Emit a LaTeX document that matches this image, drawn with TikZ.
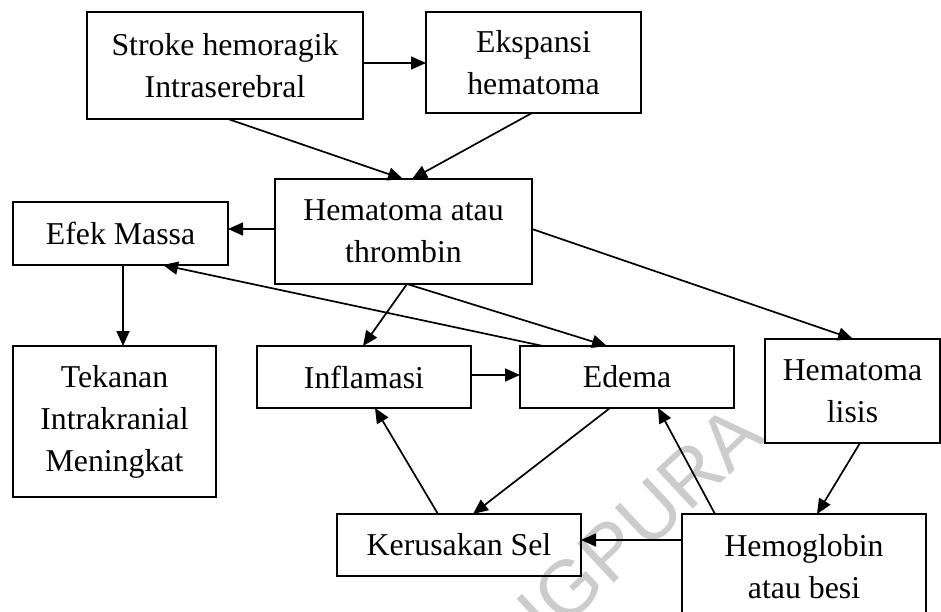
\documentclass[tikz,border=0pt]{standalone}
\usepackage{fontspec}
\setmainfont{Liberation Serif}
\newfontfamily\wmfont{Liberation Sans}
\usetikzlibrary{arrows.meta}
\begin{document}
\begin{tikzpicture}[x=1pt,y=-1pt,
  box/.style={draw, line width=1.6pt, inner sep=0pt, outer sep=0pt, align=center,
    font=\fontsize{31.8}{42}\selectfont},
  conn/.style={line width=1.7pt, -{Triangle[length=15pt,width=13pt]}},
  wm/.style={text=black!20, font=\wmfont\fontsize{78}{80}\selectfont}]
\clip (0,0) rectangle (941,612);
\fill[white] (0,0) rectangle (941,612);
\node[wm, rotate=43] (wmark) at (640,522) {IGPURA};
\node[box, minimum width=276pt, minimum height=107pt] (b1) at (225,65.5) {Stroke hemoragik\\Intraserebral};
\node[box, minimum width=215pt, minimum height=101pt] (b2) at (533.5,62.5) {Ekspansi\\hematoma};
\node[box, minimum width=257pt, minimum height=105pt] (b3) at (403.5,231.5) {Hematoma atau\\thrombin};
\node[box, minimum width=215pt, minimum height=63pt] (b4) at (120.5,233.5) {Efek Massa};
\node[box, minimum width=203pt, minimum height=151pt] (b5) at (114.5,421.5) {Tekanan\\Intrakranial\\Meningkat};
\node[box, minimum width=214pt, minimum height=62pt] (b6) at (364,377) {Inflamasi};
\node[box, minimum width=214pt, minimum height=62pt] (b7) at (627,377) {Edema};
\node[box, minimum width=175pt, minimum height=104pt] (b8) at (852.5,391) {Hematoma\\lisis};
\node[box, minimum width=244pt, minimum height=62pt] (b9) at (459,545) {Kerusakan Sel};
\node[box, minimum width=244pt, minimum height=106pt] (b10) at (804,567) {Hemoglobin\\atau besi};
\draw[conn] ([yshift=2.5pt]b1.east) -- ([yshift=-0.5pt]b2.west);
\draw[conn] ([xshift=3pt]b1.south) -- ([xshift=-0.5pt]b3.north);
\draw[conn] ([xshift=-1.5pt]b2.south) -- ([xshift=8.5pt]b3.north);
\draw[conn] ([yshift=2.5pt]b3.west) -- ([yshift=4.5pt]b4.east);
\draw[conn] ([xshift=2.5pt]b4.south) -- ([xshift=8.5pt]b5.north);
\draw[conn] ([xshift=3.5pt]b3.south) -- ([xshift=-1pt]b6.north);
\draw[conn] ([xshift=3.5pt]b3.south) -- ([xshift=-20pt]b7.north);
\draw[conn] ([yshift=2.5pt]b3.east) -- ([xshift=0.5pt]b8.north);
\draw[conn] ([xshift=-84pt]b7.north) -- ([xshift=42.5pt]b4.south);
\draw[conn] ([yshift=2pt]b6.east) -- ([yshift=2pt]b7.west);
\draw[conn] ([xshift=-17pt]b7.south) -- ([xshift=14pt]b9.north);
\draw[conn] ([xshift=-21pt]b9.north) -- ([xshift=11pt]b6.south);
\draw[conn] ([xshift=-89pt]b10.north) -- ([xshift=31pt]b7.south);
\draw[conn] ([xshift=7.5pt]b8.south) -- ([xshift=13pt]b10.north);
\draw[conn] ([yshift=27pt]b10.west) -- ([yshift=5pt]b9.east);
\end{tikzpicture}
\end{document}
